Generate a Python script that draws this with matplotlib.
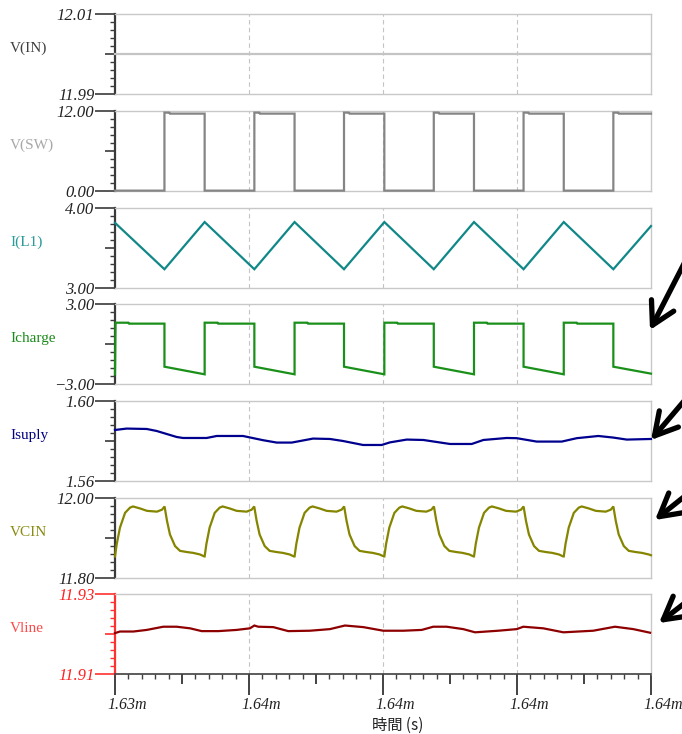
import matplotlib
matplotlib.use("Agg")
import matplotlib.pyplot as plt
from matplotlib.ticker import FixedLocator
from matplotlib.transforms import ScaledTranslation, blended_transform_factory
import numpy as np

# ---------------- data ----------------
names = ["V(IN)", "V(SW)", "I(L1)", "Icharge", "Isuply", "VCIN", "Vline"]
y_min = [11.99, 0.0, 3.0, -3.0, 1.56, 11.80, 11.91]
y_max = [12.01, 12.0, 4.0, 3.0, 1.60, 12.00, 11.93]
top_labels = ["12.01", "12.00", "4.00", "3.00", "1.60", "12.00", "11.93"]
bottom_labels = ["11.99", "0.00", "3.00", "\u22123.00", "1.56", "11.80", "11.91"]
x_tick_pos = [0, 1, 2, 3, 4]
x_tick_labels = ["1.63m", "1.64m", "1.64m", "1.64m", "1.64m"]
x_label = "時間 (s)"

vin_t = [0.0, 4.0]
vin_v = [12.0, 12.0]

vsw_t = [0.000, 0.369, 0.369, 0.405, 0.410, 0.669, 0.669,
         1.040, 1.040, 1.076, 1.081, 1.340, 1.340,
         1.709, 1.709, 1.745, 1.750, 2.010, 2.010,
         2.379, 2.379, 2.415, 2.420, 2.679, 2.679,
         3.049, 3.049, 3.085, 3.090, 3.349, 3.349,
         3.719, 3.719, 3.755, 3.760, 4.000]
vsw_v = [0.05, 0.05, 11.75, 11.75, 11.6, 11.6, 0.05,
         0.05, 11.75, 11.75, 11.6, 11.6, 0.05,
         0.05, 11.75, 11.75, 11.6, 11.6, 0.05,
         0.05, 11.75, 11.75, 11.6, 11.6, 0.05,
         0.05, 11.75, 11.75, 11.6, 11.6, 0.05,
         0.05, 11.75, 11.75, 11.6, 11.6]

il1_t = [0.000, 0.369, 0.669, 1.040, 1.340, 1.709, 2.010, 2.379, 2.679, 3.049, 3.349, 3.719, 4.000]
il1_v = [3.81, 3.23, 3.82, 3.23, 3.82, 3.23, 3.82, 3.23, 3.82, 3.23, 3.82, 3.23, 3.77]

ichg_t = [0.000, 0.004, 0.100, 0.105, 0.369, 0.369,
          0.669, 0.669, 0.765, 0.770, 1.040, 1.040,
          1.340, 1.340, 1.436, 1.441, 1.709, 1.709,
          2.010, 2.010, 2.106, 2.111, 2.379, 2.379,
          2.679, 2.679, 2.775, 2.780, 3.049, 3.049,
          3.349, 3.349, 3.445, 3.450, 3.719, 3.719, 4.000]
ichg_v = [-2.25, 1.62, 1.62, 1.55, 1.55, -1.68,
          -2.25, 1.62, 1.62, 1.55, 1.55, -1.68,
          -2.25, 1.62, 1.62, 1.55, 1.55, -1.68,
          -2.25, 1.62, 1.62, 1.55, 1.55, -1.68,
          -2.25, 1.62, 1.62, 1.55, 1.55, -1.68,
          -2.25, 1.62, 1.62, 1.55, 1.55, -1.68, -2.20]

isup_t = [0.000, 0.087, 0.237, 0.311, 0.460, 0.507, 0.684, 0.759, 0.955, 1.104,
          1.207, 1.319, 1.478, 1.604, 1.701, 1.851, 1.990, 2.052, 2.177, 2.301,
          2.500, 2.662, 2.749, 2.923, 2.998, 3.147, 3.334, 3.446, 3.607, 3.719,
          3.819, 4.000]
isup_v = [1.5855, 1.5862, 1.5860, 1.5850, 1.5820, 1.5815, 1.5815, 1.5825, 1.5825, 1.5804,
          1.5792, 1.5792, 1.5812, 1.5810, 1.5800, 1.5780, 1.5780, 1.5793, 1.5807, 1.5805,
          1.5785, 1.5785, 1.5805, 1.5815, 1.5814, 1.5797, 1.5797, 1.5814, 1.5825, 1.5817,
          1.5807, 1.5810]

vcin_t = [0.000, 0.013, 0.037, 0.075, 0.112, 0.134, 0.187, 0.239, 0.313, 0.351, 0.370, 0.388, 0.410, 0.448, 0.485, 0.537, 0.582, 0.634, 0.666,
          0.669, 0.682, 0.706, 0.744, 0.781, 0.803, 0.856, 0.908, 0.982, 1.020, 1.039, 1.057, 1.079, 1.117, 1.154, 1.206, 1.251, 1.303, 1.335,
          1.340, 1.353, 1.377, 1.415, 1.452, 1.474, 1.527, 1.579, 1.653, 1.691, 1.710, 1.728, 1.750, 1.788, 1.825, 1.877, 1.922, 1.974, 2.006,
          2.010, 2.023, 2.047, 2.085, 2.122, 2.144, 2.197, 2.249, 2.323, 2.361, 2.380, 2.398, 2.420, 2.458, 2.495, 2.547, 2.592, 2.644, 2.676,
          2.679, 2.692, 2.716, 2.754, 2.791, 2.813, 2.866, 2.918, 2.992, 3.030, 3.049, 3.067, 3.089, 3.127, 3.164, 3.216, 3.261, 3.313, 3.345,
          3.349, 3.362, 3.386, 3.424, 3.461, 3.483, 3.536, 3.588, 3.662, 3.700, 3.719, 3.737, 3.759, 3.797, 3.834, 3.886, 3.931, 3.983, 4.000]
vcin_v = [11.853, 11.884, 11.925, 11.962, 11.975, 11.978, 11.973, 11.967, 11.965, 11.970, 11.978, 11.942, 11.908, 11.879, 11.867, 11.864, 11.862, 11.858, 11.853,
          11.853, 11.884, 11.925, 11.962, 11.975, 11.978, 11.973, 11.967, 11.965, 11.970, 11.978, 11.942, 11.908, 11.879, 11.867, 11.864, 11.862, 11.858, 11.853,
          11.853, 11.884, 11.925, 11.962, 11.975, 11.978, 11.973, 11.967, 11.965, 11.970, 11.978, 11.942, 11.908, 11.879, 11.867, 11.864, 11.862, 11.858, 11.853,
          11.853, 11.884, 11.925, 11.962, 11.975, 11.978, 11.973, 11.967, 11.965, 11.970, 11.978, 11.942, 11.908, 11.879, 11.867, 11.864, 11.862, 11.858, 11.853,
          11.853, 11.884, 11.925, 11.962, 11.975, 11.978, 11.973, 11.967, 11.965, 11.970, 11.978, 11.942, 11.908, 11.879, 11.867, 11.864, 11.862, 11.858, 11.853,
          11.853, 11.884, 11.925, 11.962, 11.975, 11.978, 11.973, 11.967, 11.965, 11.970, 11.978, 11.942, 11.908, 11.879, 11.867, 11.864, 11.862, 11.858, 11.856]

vline_t = [0.000, 0.037, 0.137, 0.237, 0.360, 0.460, 0.560, 0.647, 0.771, 0.908,
           1.007, 1.040, 1.069, 1.181, 1.293, 1.455, 1.604, 1.716, 1.853, 2.002,
           2.151, 2.289, 2.375, 2.475, 2.599, 2.687, 2.860, 2.998, 3.047, 3.196,
           3.346, 3.569, 3.731, 3.868, 3.993]
vline_v = [11.9203, 11.9207, 11.9207, 11.9211, 11.9219, 11.9219, 11.9215, 11.9208, 11.9208, 11.9211,
           11.9215, 11.9222, 11.9219, 11.9218, 11.9208, 11.9209, 11.9213, 11.9222, 11.9218, 11.9209,
           11.9209, 11.9211, 11.9219, 11.9219, 11.9213, 11.9205, 11.9209, 11.9213, 11.9219, 11.9215,
           11.9205, 11.9209, 11.9219, 11.9213, 11.9204]

series = [(vin_t, vin_v), (vsw_t, vsw_v), (il1_t, il1_v), (ichg_t, ichg_v),
          (isup_t, isup_v), (vcin_t, vcin_v), (vline_t, vline_v)]

# ---------------- styles ----------------
line_colors = ["#c4c4c4", "#858585", "#118888", "#1a901a", "#00008e", "#858500", "#8e0000"]
name_colors = ["#404040", "#a8a8a8", "#2a9a9a", "#1a8a1a", "#000080", "#8a8a10", "#ff4a4a"]
axis_colors = ["#3a3a3a"] * 6 + ["#ff3030"]
ticklabel_colors = ["#222222"] * 6 + ["#ff2020"]
frame_color = "#c8c8c8"
SERIF = "Liberation Serif"

W, H, DPI = 682, 734, 100
fig = plt.figure(figsize=(W / DPI, H / DPI), dpi=DPI)
fig.patch.set_facecolor("white")

LEFT, RIGHT = 115, 651
PANEL_H = 80
axes = []
for i in range(7):
    top = 14.3 + i * 96.67
    ax = fig.add_axes([LEFT / W, 1 - (top + PANEL_H) / H, (RIGHT - LEFT) / W, PANEL_H / H])
    axes.append(ax)
    t, v = series[i]
    ax.plot(t, v, color=line_colors[i], lw=1.6, clip_on=False, zorder=3,
            solid_joinstyle="miter")
    ax.set_xlim(0, 4)
    ax.set_ylim(y_min[i], y_max[i])
    for xv in [1, 2, 3]:
        ax.axvline(xv, color="#c4c4c4", lw=0.8, ls=(0, (4, 3)), zorder=1)

    for s in ["top", "right", "bottom"]:
        ax.spines[s].set_color(frame_color)
        ax.spines[s].set_linewidth(1.0)
    ax.spines["left"].set_color(axis_colors[i])
    ax.spines["left"].set_linewidth(1.6)

    ymid = (y_min[i] + y_max[i]) / 2
    ax.set_yticks([y_min[i], ymid, y_max[i]])
    ax.set_yticklabels([bottom_labels[i], "", top_labels[i]], fontstyle="italic",
                       family=SERIF, fontsize=12, color=ticklabel_colors[i])
    ax.yaxis.set_minor_locator(FixedLocator(np.linspace(y_min[i], y_max[i], 11)))
    ax.tick_params(axis="y", which="major", length=14.4, width=1.2, pad=0.5,
                   color=axis_colors[i], direction="out")
    ax.tick_params(axis="y", which="minor", length=3.6, width=1.0,
                   color=axis_colors[i], direction="out")
    ax.yaxis.get_major_ticks()[1].tick1line.set_markersize(7.2)

    ax.text(10 / W, 0.57, names[i], transform=blended_transform_factory(fig.transFigure, ax.transAxes),
            ha="left", va="center", fontsize=11, family=SERIF, color=name_colors[i])

    if i < 6:
        ax.tick_params(axis="x", which="both", bottom=False, labelbottom=False)
    else:
        ax.spines["bottom"].set_color("#404040")
        ax.spines["bottom"].set_linewidth(1.2)
        ax.set_xticks(np.arange(0, 4.01, 0.5))
        ax.set_xticklabels([])
        ax.xaxis.set_minor_locator(FixedLocator(np.arange(0, 4.001, 0.1)))
        ax.tick_params(axis="x", which="major", length=15, width=1.2, color="#222222", direction="out")
        ax.tick_params(axis="x", which="minor", length=3.6, width=1.0, color="#404040", direction="out")
        for k, tk in enumerate(ax.xaxis.get_major_ticks()):
            if k % 2 == 1:
                tk.tick1line.set_markersize(7.2)
        tr = blended_transform_factory(ax.transData, ax.transAxes) + \
            ScaledTranslation(12 / DPI, -31 / DPI, fig.dpi_scale_trans)
        for xp, lb in zip(x_tick_pos, x_tick_labels):
            ax.text(xp, 0, lb, transform=tr, ha="center", va="center",
                    fontsize=11.5, fontstyle="italic", family=SERIF, color="#222222")

fig.text(398 / W, 1 - 725 / H, x_label, ha="center", va="center", fontsize=11,
         family=["Noto Sans CJK JP", "DejaVu Sans"], color="#222222")

# hand-drawn style pointer arrows on the right edge
arrows = [((650, 330), (690, 252)), ((651, 440), (690, 394)),
          ((655, 520), (690, 492)), ((659, 623), (690, 599))]
for (tx, ty), (sx, sy) in arrows:
    axes[-1].annotate("", xy=(tx / W, 1 - ty / H), xycoords="figure fraction",
                      xytext=(sx / W, 1 - sy / H), textcoords="figure fraction",
                      arrowprops=dict(arrowstyle="->,head_length=0.8,head_width=0.45",
                                      lw=3.8, color="black", shrinkA=0, shrinkB=0,
                                      mutation_scale=20),
                      annotation_clip=False)

fig.savefig("out.png", dpi=DPI)
